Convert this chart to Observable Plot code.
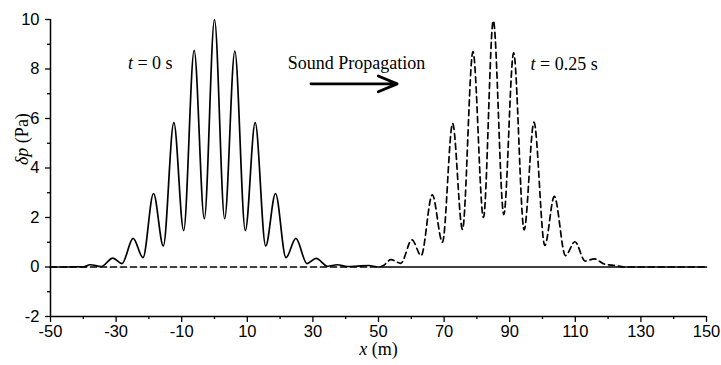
<!DOCTYPE html>
<html><head><meta charset="utf-8">
<script src="https://cdn.jsdelivr.net/npm/d3@7"></script>
<script src="https://cdn.jsdelivr.net/npm/@observablehq/plot@0.6"></script>
<style>body{margin:0;background:#fff}</style>
</head><body><div id="chart"></div>
<script>
// t = 0 s (solid)
const solidX = [-50,-45,-42,-40,-37.9,-34.5,-31,-28.2,-24.8,-21.8,-18.6,-15.6,-12.4,-9.4,-6.2,-3.1,0,3.1,6.2,9.4,12.4,15.6,18.6,21.8,24.8,28.2,31,34.5,37.4,40.5,43,47,50,60,150];
const solidY = [0,0,0.01,0,0.09,0.02,0.36,0.14,1.16,0.38,2.97,0.85,5.83,1.47,8.75,1.95,10,1.95,8.72,1.47,5.83,0.85,2.97,0.38,1.16,0.14,0.35,0.03,0.09,0.02,0.03,0.06,0,0,0];
// t = 0.25 s (dashed)
const dashedX = [-50,50,51.5,53.8,56.8,60.2,63.0,66.4,69.5,72.6,75.6,78.8,82.0,85,88.2,91.2,94.4,97.4,100.7,103.6,107.0,109.9,113.0,115.8,118.8,122.2,125,150];
const dashedY = [0,0,0.06,0.3,0.15,1.1,0.46,2.92,1.0,5.8,1.52,8.7,2.0,9.95,2.12,8.65,1.5,5.85,0.87,2.85,0.46,1.02,0.24,0.33,0.12,0.06,0,0];
const xTicks = [-50,-30,-10,10,30,50,70,90,110,130,150];
const xMinorTicks = [-40,-20,0,20,40,60,80,100,120,140];
const yTicks = [-2,0,2,4,6,8,10];
const yMinorTicks = [-1,1,3,5,7,9];
const labelT0 = "t = 0 s";
const labelT1 = "t = 0.25 s";
const labelProp = "Sound Propagation";
const labelX = "x (m)";
const labelY = "δp (Pa)";

const solid = solidX.map((x, i) => ({x, y: solidY[i]}));
const dashed = dashedX.map((x, i) => ({x, y: dashedY[i]}));
const serif = "'Liberation Serif','Times New Roman',serif";
const sans = "'Liberation Sans',Arial,sans-serif";

const chart = Plot.plot({
  width: 721, height: 365,
  marginLeft: 50, marginRight: 15, marginTop: 19, marginBottom: 49,
  style: {fontFamily: sans, fontSize: "16px", color: "#000", background: "#fff"},
  x: {domain: [-50, 150]},
  y: {domain: [-2, 10]},
  marks: [
    Plot.axisX({ticks: xTicks, tickSize: 6, tickPadding: 3, tickFormat: d => String(d), label: null, fontSize: 16.5, strokeWidth: 1.3}),
    Plot.axisX({ticks: xMinorTicks, tickSize: 3, tickFormat: () => "", label: null, strokeWidth: 1.3}),
    Plot.axisY({ticks: yTicks, tickSize: 5, tickPadding: 6, tickFormat: d => String(d), label: null, fontSize: 16.5, strokeWidth: 1.3}),
    Plot.axisY({ticks: yMinorTicks, tickSize: 3, tickFormat: () => "", label: null, strokeWidth: 1.3}),
    Plot.ruleX([-50], {strokeWidth: 1.5}),
    Plot.ruleY([-2], {strokeWidth: 1.5}),
    Plot.line(dashed, {x: "x", y: "y", curve: "monotone-x", strokeDasharray: "6,4", strokeWidth: 1.7}),
    Plot.line(solid, {x: "x", y: "y", curve: "monotone-x", strokeWidth: 1.7}),
    Plot.arrow([labelProp], {x1: 29.4, x2: 55.7, y1: 7.4, y2: 7.4, strokeWidth: 2.8, headLength: 11, headAngle: 45}),
    Plot.text([labelT0], {x: -19.6, y: 8.22, text: d => d, fontFamily: serif, fontSize: 18}),
    Plot.text([labelProp], {x: 43.3, y: 8.23, text: d => d, fontFamily: serif, fontSize: 18}),
    Plot.text([labelT1], {x: 106.6, y: 8.2, text: d => d, fontFamily: serif, fontSize: 18}),
    Plot.text([labelX], {frameAnchor: "bottom", dy: 38, text: d => d, fontFamily: serif, fontSize: 18}),
    Plot.text([labelY], {frameAnchor: "left", dx: -28, dy: -3, rotate: -90, text: d => d, fontFamily: serif, fontSize: 18})
  ]
});

function rich(svg, str, parts) {
  d3.select(svg).selectAll("text").filter(function () { return this.textContent === str; }).each(function () {
    const t = d3.select(this);
    t.text(null);
    parts.forEach(([s, it]) => t.append("tspan").attr("font-style", it ? "italic" : null).text(s));
  });
}
rich(chart, labelT0, [["t", true], [" = 0 s", false]]);
rich(chart, labelT1, [["t", true], [" = 0.25 s", false]]);
rich(chart, labelX, [["x", true], [" (m)", false]]);
rich(chart, labelY, [["δp", true], [" (Pa)", false]]);
document.getElementById("chart").appendChild(chart);
</script>
</body></html>
